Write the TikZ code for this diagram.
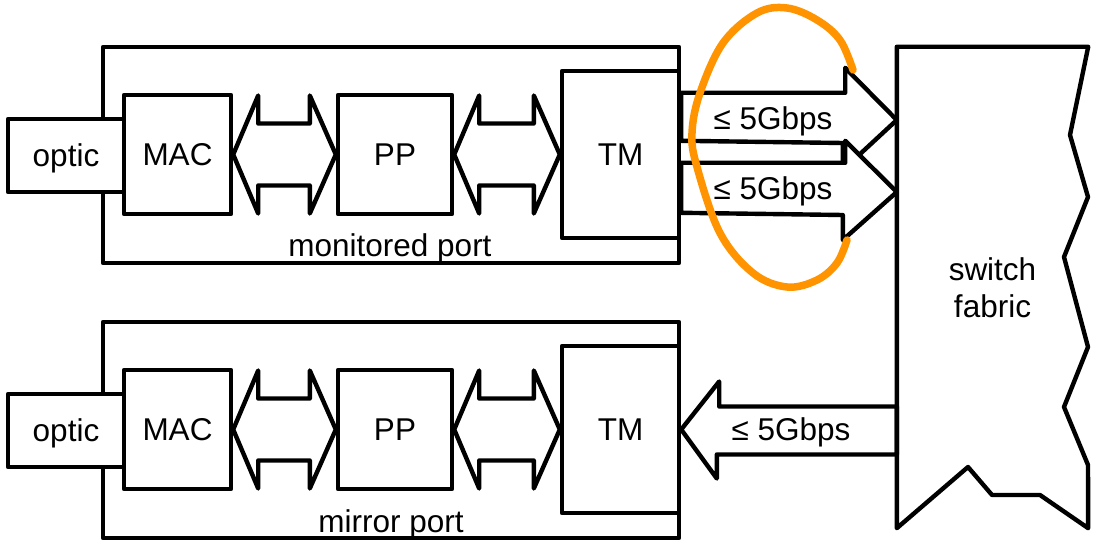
\documentclass[tikz,border=0pt]{standalone}
\usepackage{fontspec}
\setmainfont{Liberation Sans}
\usetikzlibrary{calc}
\definecolor{hlorange}{RGB}{255,148,0}
\newcommand\dfont{\fontsize{31.5bp}{37bp}\selectfont}
\tikzset{
  ln/.style={line width=4.4bp, line join=round},
  box/.style={ln, draw, fill=white, rectangle, inner sep=0pt, text depth=0pt, font=\dfont},
  port/.style={ln, draw, rectangle, inner sep=0pt},
  arr/.style={ln, draw, fill=white},
  lbl/.style={font=\dfont, anchor=base, inner sep=0pt},
}
\begin{document}
\begin{tikzpicture}[x=1bp, y=-1bp]
\useasboundingbox (0,0) rectangle (1095,541);
% ports
\node[port, minimum width=576bp, minimum height=216bp] (out1) at (391,155) {};
\node[port, minimum width=576bp, minimum height=216bp] (out2) at (391,430) {};
% monitored port
\node[box, minimum width=116bp, minimum height=73bp] (optic1) at (66,155.5) {optic};
\node[box, minimum width=107bp, minimum height=119bp] (mac1) at (177.5,154.5) {MAC};
\node[box, minimum width=114bp, minimum height=119bp] (pp1) at (395,154.5) {PP};
\node[box, minimum width=117bp, minimum height=167bp] (tm1) at (620.5,154.5) {TM};
\node[lbl] (lab1) at (390,257) {monitored port};
% mirror port
\node[box, minimum width=116bp, minimum height=73bp] (optic2) at (66,430.5) {optic};
\node[box, minimum width=107bp, minimum height=119bp] (mac2) at (177.5,429.5) {MAC};
\node[box, minimum width=114bp, minimum height=119bp] (pp2) at (395,429.5) {PP};
\node[box, minimum width=117bp, minimum height=167bp] (tm2) at (620.5,429.5) {TM};
\node[lbl] (lab2) at (391,532) {mirror port};
% switch fabric
\node[draw=none, rectangle, inner sep=0pt, minimum width=191bp, minimum height=481bp,
      align=center, font=\dfont, text depth=0pt] (sf) at (992.5,287.5) {switch\\fabric};
% double arrows
\foreach \a/\b in {mac1/pp1, pp1/tm1, mac2/pp2, pp2/tm2}{
  \draw[arr] (\a.east) -- ++(25,-59) |- ($(\b.west)+(-26,-31)$) -- ++(0,-28) -- (\b.west)
     -- ++(-26,59) -- ++(0,-28) -| ($(\a.east)+(25,59)$) -- cycle;
}
% fat arrows to switch fabric
\draw[arr] ($(tm1.north east)+(0,24)$) -- ++(164,0) -- ++(0,-25) -- ($(sf.west)+(0,-167.5)$)
   -- ++(-54,50) -- ++(0,-27) -- ($(tm1.north east)+(0,72)$) -- cycle;
\draw[arr] ($(tm1.north east)+(0,94)$) -- ++(164,0) -- ++(0,-22) -- ($(sf.west)+(0,-95.5)$)
   -- ++(-54,48) -- ++(0,-25) -- ($(tm1.north east)+(0,144)$) -- cycle;
\draw[arr] (tm2.east) -- ++(38,-48) -- ++(0,25) -- ($(sf.west)+(0,119)$) -- ++(0,48)
   -- ++(-180,0) -- ++(0,24) -- cycle;
\node[lbl] (r1) at (773,130) {≤ 5Gbps};
\node[lbl] (r2) at (773,200) {≤ 5Gbps};
\node[lbl] (r3) at (791,440) {≤ 5Gbps};
% switch fabric outline
\draw[ln] (sf.north west) -- (sf.north east) -- (1070,135) -- (1088,197) -- (1064,257)
   -- (1088,347) -- (1064,407) -- (1088,465) -- (sf.south east) -- (1040,495) -- (992,495)
   -- (968,467) -- (sf.south west) -- cycle;
% highlight
\draw[hlorange, line width=7.5bp, line cap=round] plot[smooth, tension=0.6] coordinates {
  (853,70) (840,40) (817,20) (787,8) (757,13) (723,43) (700,93) (692,133) (697,167)
  (720,233) (753,273) (787,287) (817,280) (837,263) (847,240)};
\end{tikzpicture}
\end{document}
